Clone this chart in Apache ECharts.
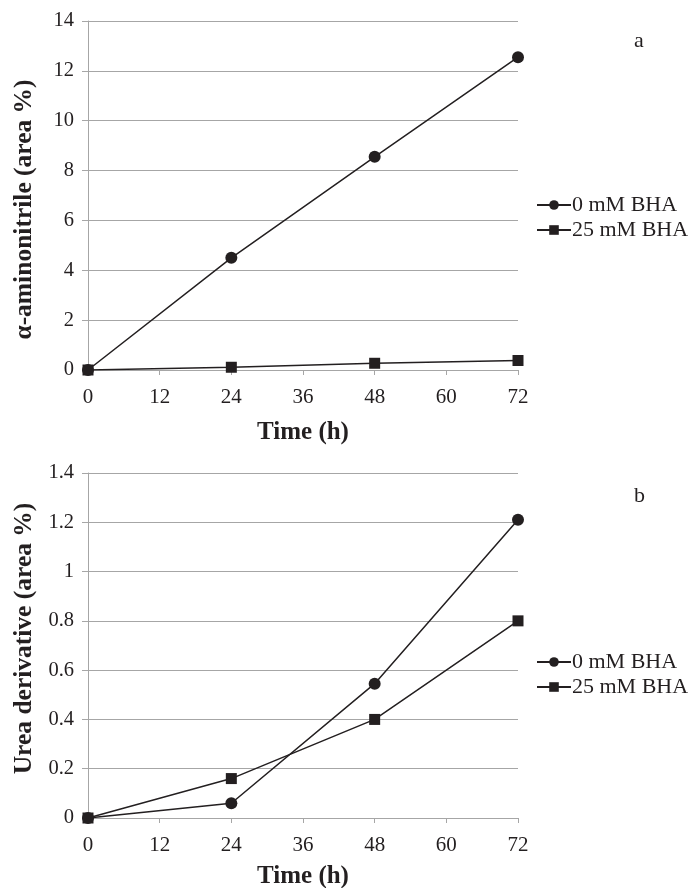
<!DOCTYPE html>
<html>
<head>
<meta charset="utf-8">
<script src="https://cdn.jsdelivr.net/npm/echarts@6/dist/echarts.min.js"></script>
<style>
  html, body { margin: 0; padding: 0; background: #fff; }
  #chart { width: 693px; height: 888px; }
</style>
</head>
<body>
<div id="chart"></div>
<script>
var hours = [0, 24, 48, 72];
var seriesNames = ['0 mM BHA', '25 mM BHA'];

// panel a: alpha-aminonitrile (area %)
var aminoNoBha = [0, 4.5, 8.55, 12.55];
var amino25Bha = [0, 0.11, 0.27, 0.38];

// panel b: urea derivative (area %)
var ureaNoBha = [0, 0.06, 0.545, 1.21];
var urea25Bha = [0, 0.16, 0.4, 0.8];

var ink = '#231f20';
var gridGray = '#a6a6a6';
var font = '"Liberation Serif", "Times New Roman", serif';

function pairs(xs, ys) {
  var out = [];
  for (var i = 0; i < xs.length; i++) out.push([xs[i], ys[i]]);
  return out;
}

function xAxisFor(idx, gap) {
  return {
    gridIndex: idx,
    type: 'value',
    min: 0,
    max: 72,
    interval: 12,
    name: 'Time (h)',
    nameLocation: 'middle',
    nameGap: gap,
    nameTextStyle: { fontFamily: font, fontWeight: 'bold', fontSize: 25, color: ink },
    axisLine: { show: true, lineStyle: { color: gridGray, width: 1 } },
    axisTick: { show: true, length: 5, lineStyle: { color: gridGray } },
    axisLabel: { fontFamily: font, fontSize: 21, color: ink, margin: 17 },
    splitLine: { show: false }
  };
}

// pad shifts the rotated title along the axis (reference is not centred)
function yAxisFor(idx, name, max, step, pad) {
  return {
    gridIndex: idx,
    type: 'value',
    min: 0,
    max: max,
    interval: step,
    name: name,
    nameLocation: 'middle',
    nameGap: 51,
    nameTextStyle: { fontFamily: font, fontWeight: 'bold', fontSize: 25.5, color: ink, padding: pad },
    axisLine: { show: true, lineStyle: { color: gridGray, width: 1 } },
    axisTick: { show: true, length: 6, lineStyle: { color: gridGray } },
    axisLabel: { fontFamily: font, fontSize: 20.5, color: ink, margin: 14 },
    splitLine: { show: true, lineStyle: { color: gridGray, width: 1 } }
  };
}

function lineSeries(name, idx, data, symbol, size) {
  return {
    name: name,
    type: 'line',
    xAxisIndex: idx,
    yAxisIndex: idx,
    data: data,
    symbol: symbol,
    symbolSize: size,
    showAllSymbol: true,
    lineStyle: { color: ink, width: 1.5 },
    itemStyle: { color: ink },
    animation: false
  };
}

function legendFor(top) {
  return {
    orient: 'vertical',
    left: 531,
    top: top,
    itemWidth: 34,
    itemHeight: 12,
    itemGap: 3,
    data: seriesNames,
    textStyle: { fontFamily: font, fontSize: 22, color: ink, padding: [0, 0, 0, -4] }
  };
}

var chart = echarts.init(document.getElementById('chart'), null, { renderer: 'canvas' });

chart.setOption({
  backgroundColor: '#fff',
  animation: false,
  title: [
    { text: 'a', left: 629, top: 25, textStyle: { fontFamily: font, fontWeight: 'normal', fontSize: 22, color: ink } },
    { text: 'b', left: 629, top: 480, textStyle: { fontFamily: font, fontWeight: 'normal', fontSize: 22, color: ink } }
  ],
  legend: [legendFor(189), legendFor(646)],
  grid: [
    { left: 88, top: 21, width: 430, height: 349, outerBoundsMode: 'none' },
    { left: 88, top: 473, width: 430, height: 345, outerBoundsMode: 'none' }
  ],
  xAxis: [xAxisFor(0, 50), xAxisFor(1, 46)],
  yAxis: [
    yAxisFor(0, 'α-aminonitrile (area %)', 14, 2, [0, 28, 0, 0]),
    yAxisFor(1, 'Urea derivative (area %)', 1.4, 0.2, [0, 0, 0, 14])
  ],
  series: [
    lineSeries(seriesNames[0], 0, pairs(hours, aminoNoBha), 'circle', 12),
    lineSeries(seriesNames[1], 0, pairs(hours, amino25Bha), 'rect', 11),
    lineSeries(seriesNames[0], 1, pairs(hours, ureaNoBha), 'circle', 12),
    lineSeries(seriesNames[1], 1, pairs(hours, urea25Bha), 'rect', 11)
  ]
});
</script>
</body>
</html>
